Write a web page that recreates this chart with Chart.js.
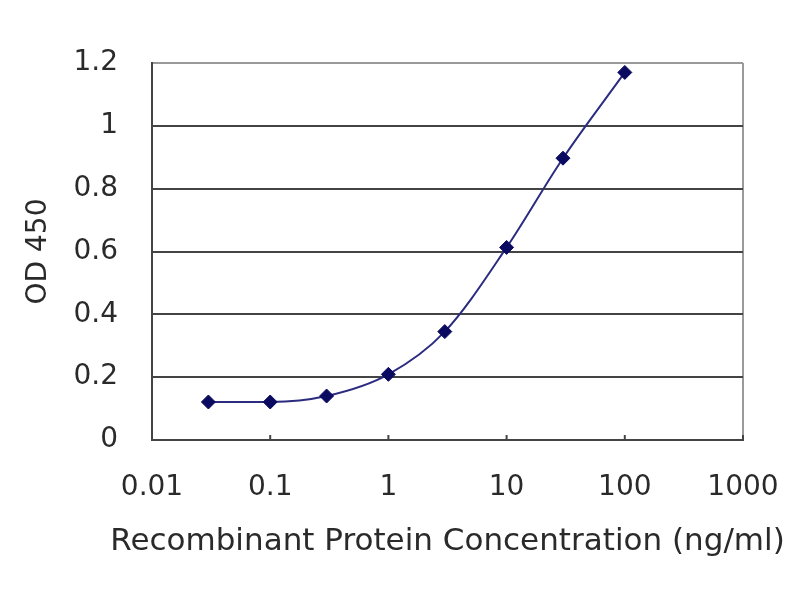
<!DOCTYPE html>
<html>
<head>
<meta charset="utf-8">
<script src="https://cdn.jsdelivr.net/npm/chart.js@4/dist/chart.umd.min.js"></script>
<style>
  html, body { margin: 0; padding: 0; background: #fff; }
  #wrap { width: 800px; height: 600px; }
</style>
</head>
<body>
<div id="wrap"><canvas id="c" width="800" height="600"></canvas></div>
<script>
const concentrations = [0.03, 0.1, 0.3, 1, 3, 10, 30, 100];
const od450 = [0.121, 0.121, 0.14, 0.209, 0.345, 0.613, 0.897, 1.17];
const xTickValues = [0.01, 0.1, 1, 10, 100, 1000];
const xTickLabels = ['0.01', '0.1', '1', '10', '100', '1000'];
const yTickValues = [0, 0.2, 0.4, 0.6, 0.8, 1, 1.2];
const yTickLabels = ['0', '0.2', '0.4', '0.6', '0.8', '1', '1.2'];
const xTitle = 'Recombinant Protein Concentration (ng/ml)';
const yTitle = 'OD 450';

const FONT = 'DejaVu Sans';
const TXT = '#2a2a2a';

const extras = {
  id: 'extras',
  afterDraw(chart) {
    const ctx = chart.ctx;
    const xs = chart.scales.x;
    const area = chart.chartArea;
    ctx.save();
    ctx.strokeStyle = '#444';
    ctx.lineWidth = 2;
    xTickValues.forEach(v => {
      const px = xs.getPixelForValue(v);
      ctx.beginPath();
      ctx.moveTo(px, area.bottom);
      ctx.lineTo(px, area.bottom - 5);
      ctx.stroke();
    });
    // x-axis title (drawn here so it is not squeezed to the plot width)
    ctx.fillStyle = TXT;
    ctx.font = '31px "' + FONT + '"';
    ctx.textAlign = 'center';
    ctx.textBaseline = 'middle';
    ctx.fillText(xTitle, (area.left + area.right) / 2, 542);
    ctx.restore();
  }
};

new Chart(document.getElementById('c'), {
  type: 'line',
  data: {
    datasets: [{
      data: concentrations.map((x, i) => ({ x: x, y: od450[i] })),
      borderColor: '#2b2b80',
      borderWidth: 2,
      backgroundColor: '#0a0a60',
      pointBackgroundColor: '#0a0a60',
      pointBorderColor: '#0a0a60',
      pointStyle: 'rectRot',
      pointRadius: 7,
      pointBorderWidth: 1,
      cubicInterpolationMode: 'monotone',
      fill: false
    }]
  },
  options: {
    responsive: false,
    animation: false,
    devicePixelRatio: 1,
    layout: { padding: { top: 63, right: 57, left: 0, bottom: 0 } },
    plugins: { legend: { display: false }, tooltip: { enabled: false } },
    scales: {
      x: {
        type: 'logarithmic',
        min: 0.01,
        max: 1000,
        afterBuildTicks(scale) { scale.ticks = xTickValues.map(v => ({ value: v })); },
        afterFit(scale) {
          scale.height = 160;
          scale.paddingLeft = 0;
          scale.paddingRight = 0;
        },
        ticks: {
          autoSkip: false,
          maxRotation: 0,
          padding: 31,
          color: TXT,
          font: { family: FONT, size: 28 },
          callback(value) {
            const i = xTickValues.indexOf(value);
            return i >= 0 ? xTickLabels[i] : '';
          }
        },
        grid: {
          drawTicks: false,
          lineWidth: 2,
          color(ctx) { return ctx.tick && ctx.tick.value === 1000 ? '#9a9a9a' : 'rgba(0,0,0,0)'; }
        },
        border: { color: '#444', width: 2 },
        title: { display: false }
      },
      y: {
        type: 'linear',
        min: 0,
        max: 1.2,
        afterBuildTicks(scale) { scale.ticks = yTickValues.map(v => ({ value: v })); },
        afterFit(scale) {
          scale.width = 152;
          scale.paddingTop = 0;
          scale.paddingBottom = 0;
        },
        ticks: {
          padding: 34,
          color: TXT,
          font: { family: FONT, size: 28 },
          callback(value) {
            const i = yTickValues.findIndex(v => Math.abs(v - value) < 1e-9);
            return i >= 0 ? yTickLabels[i] : '';
          }
        },
        grid: {
          drawTicks: false,
          lineWidth: 2,
          color(ctx) {
            if (!ctx.tick) return '#444';
            if (Math.abs(ctx.tick.value - 1.2) < 1e-9) return '#9a9a9a';
            return '#444';
          }
        },
        border: { color: '#444', width: 2 },
        title: {
          display: true,
          text: yTitle,
          color: TXT,
          font: { family: FONT, size: 28 },
          padding: { top: 22, bottom: 0 }
        }
      }
    }
  },
  plugins: [extras]
});
</script>
</body>
</html>
